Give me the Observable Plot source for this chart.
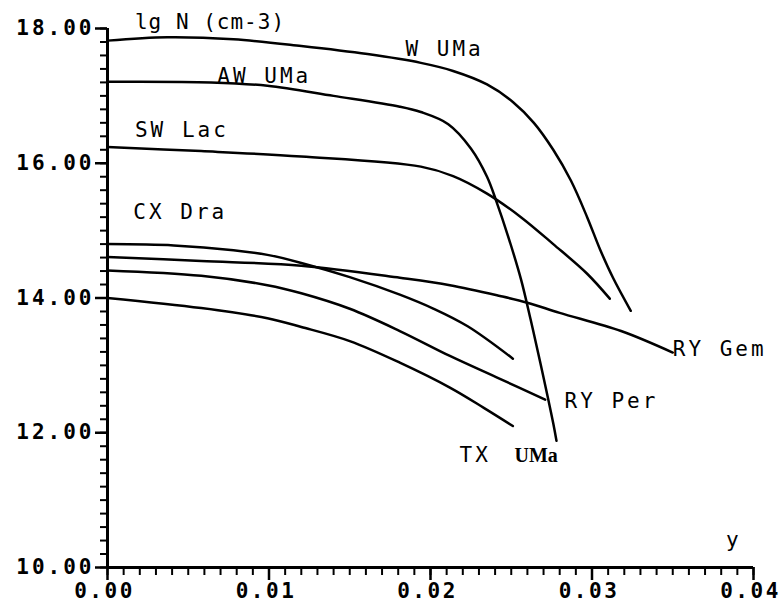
<!DOCTYPE html>
<html>
<head>
<meta charset="utf-8">
<script src="https://cdn.jsdelivr.net/npm/d3@7"></script>
<script src="https://cdn.jsdelivr.net/npm/@observablehq/plot@0.6"></script>
<style>
  html, body { margin: 0; padding: 0; background: #fff; }
  #chart svg { display: block; }
  #chart svg text { letter-spacing: 3px; }
</style>
</head>
<body>
<div id="chart"></div>
<script>
// ---- data ----
const seriesNames = ["W UMa", "AW UMa", "SW Lac", "CX Dra", "RY Gem", "RY Per", "TX UMa"];

const wumaX = [0, 0.0037, 0.0078, 0.012, 0.0161, 0.0194, 0.0214, 0.0235, 0.0251, 0.0264, 0.0276, 0.0287, 0.0297, 0.0305, 0.0313, 0.0324];
const wumaY = [17.82, 17.87, 17.84, 17.74, 17.62, 17.49, 17.37, 17.17, 16.91, 16.60, 16.20, 15.74, 15.20, 14.72, 14.30, 13.81];

const awumaX = [0, 0.0064, 0.0099, 0.014, 0.0181, 0.0194, 0.0211, 0.0225, 0.0235, 0.0241, 0.0248, 0.0256, 0.0262, 0.0268, 0.0276, 0.0278];
const awumaY = [17.21, 17.20, 17.15, 17.00, 16.84, 16.76, 16.58, 16.22, 15.80, 15.42, 14.92, 14.28, 13.68, 13.04, 12.14, 11.88];

const swlacX = [0, 0.0058, 0.012, 0.0194, 0.0214, 0.0235, 0.0256, 0.0276, 0.0297, 0.0311];
const swlacY = [16.24, 16.18, 16.10, 15.95, 15.81, 15.55, 15.20, 14.80, 14.36, 13.99];

const cxdraX = [0, 0.0041, 0.0078, 0.0099, 0.012, 0.015, 0.0181, 0.0202, 0.0223, 0.0251];
const cxdraY = [14.80, 14.78, 14.71, 14.64, 14.52, 14.31, 14.05, 13.84, 13.58, 13.10];

const rygemX = [0, 0.0058, 0.012, 0.0181, 0.0212, 0.0243, 0.026, 0.028, 0.0318, 0.035];
const rygemY = [14.61, 14.55, 14.48, 14.30, 14.19, 14.03, 13.93, 13.78, 13.51, 13.19];

const ryperX = [0, 0.0058, 0.0099, 0.012, 0.015, 0.0181, 0.0212, 0.0243, 0.0271];
const ryperY = [14.41, 14.33, 14.19, 14.07, 13.84, 13.51, 13.14, 12.80, 12.49];

const txumaX = [0, 0.0058, 0.0099, 0.012, 0.015, 0.0181, 0.0212, 0.0233, 0.0251];
const txumaY = [14.00, 13.85, 13.70, 13.57, 13.36, 13.04, 12.67, 12.37, 12.10];

// axis ticks
const xDomain = [0, 0.04];
const yDomain = [10, 18];
const xMajorTicks = [0, 0.01, 0.02, 0.03, 0.04];
const yMajorTicks = [10, 12, 14, 16, 18];
const xMinorTicks = d3.range(0, 41).map(i => i / 1000);
const yMinorTicks = d3.range(0, 41).map(i => 10 + i * 0.2);

// in-plot labels (text, anchor in data coordinates)
const labelText = ["lg N (cm-3)", "W UMa", "AW UMa", "SW Lac", "CX Dra", "RY Gem", "RY Per", "TX", "y"];
const labelX    = [0.0017, 0.01845, 0.0068, 0.0017, 0.0016, 0.0350, 0.0283, 0.0218, 0.0383];
const labelY    = [17.99, 17.59, 17.19, 16.39, 15.17, 13.14, 12.36, 11.57, 10.31];
const serifLabelText = ["UMa"];
const serifLabelX = [0.0252];
const serifLabelY = [11.57];

// ---- build tables ----
const seriesX = [wumaX, awumaX, swlacX, cxdraX, rygemX, ryperX, txumaX];
const seriesY = [wumaY, awumaY, swlacY, cxdraY, rygemY, ryperY, txumaY];
const rows = [];
seriesNames.forEach((name, i) => {
  seriesX[i].forEach((x, j) => rows.push({series: name, x, y: seriesY[i][j]}));
});
const labels = labelText.map((t, i) => ({t, x: labelX[i], y: labelY[i]}));
const serifLabels = serifLabelText.map((t, i) => ({t, x: serifLabelX[i], y: serifLabelY[i]}));

const mono = "'DejaVu Sans Mono', monospace";

const chart = Plot.plot({
  width: 783,
  height: 605,
  marginLeft: 107,
  marginRight: 30,
  marginTop: 28,
  marginBottom: 38,
  x: {domain: xDomain},
  y: {domain: yDomain},
  style: {background: "white", color: "black", fontFamily: mono, overflow: "visible"},
  marks: [
    // minor ticks
    Plot.axisX({ticks: xMinorTicks, tickSize: 8, strokeWidth: 2, tickFormat: () => "", label: null}),
    Plot.axisY({ticks: yMinorTicks, tickSize: 7, strokeWidth: 2, tickFormat: () => "", label: null}),
    // major ticks with labels
    Plot.axisX({ticks: xMajorTicks, tickSize: 13, tickPadding: 3, strokeWidth: 2.5,
      tickFormat: d => d.toFixed(2), label: null,
      fontSize: 21, fontWeight: "bold", fontFamily: mono}),
    Plot.axisY({ticks: yMajorTicks, tickSize: 12, tickPadding: 1, strokeWidth: 2.5,
      tickFormat: d => d.toFixed(2), label: null,
      fontSize: 21, fontWeight: "bold", fontFamily: mono}),
    // axis lines
    Plot.ruleY([yDomain[0]], {strokeWidth: 3}),
    Plot.ruleX([xDomain[0]], {strokeWidth: 3}),
    // curves
    Plot.line(rows, {x: "x", y: "y", z: "series", stroke: "black", strokeWidth: 2.5, curve: "catmull-rom"}),
    // labels
    Plot.text(labels, {x: "x", y: "y", text: "t", textAnchor: "start", lineAnchor: "bottom",
      fontSize: 21, fontFamily: mono, fill: "black"}),
    Plot.text(serifLabels, {x: "x", y: "y", text: "t", textAnchor: "start", lineAnchor: "bottom",
      fontSize: 20, fontFamily: "'Liberation Serif', 'DejaVu Serif', serif", fontWeight: "bold", fill: "black"})
  ]
});
document.getElementById("chart").appendChild(chart);

// per-label letter spacing tweaks
const xTickLabels = new Set(xMajorTicks.map(d => d.toFixed(2)));
d3.select(chart).selectAll("text").each(function() {
  const t = this.textContent;
  if (t === "lg N (cm-3)") this.style.letterSpacing = "1px";
  if (t === "UMa" && this.closest("g[font-weight='bold']")) this.style.letterSpacing = "0px";
  if (xTickLabels.has(t) && !this.closest("g[aria-label='y-axis tick label']")) {
    this.style.letterSpacing = "2.5px";
    this.setAttribute("dx", "-3");
  }
});
</script>
</body>
</html>
